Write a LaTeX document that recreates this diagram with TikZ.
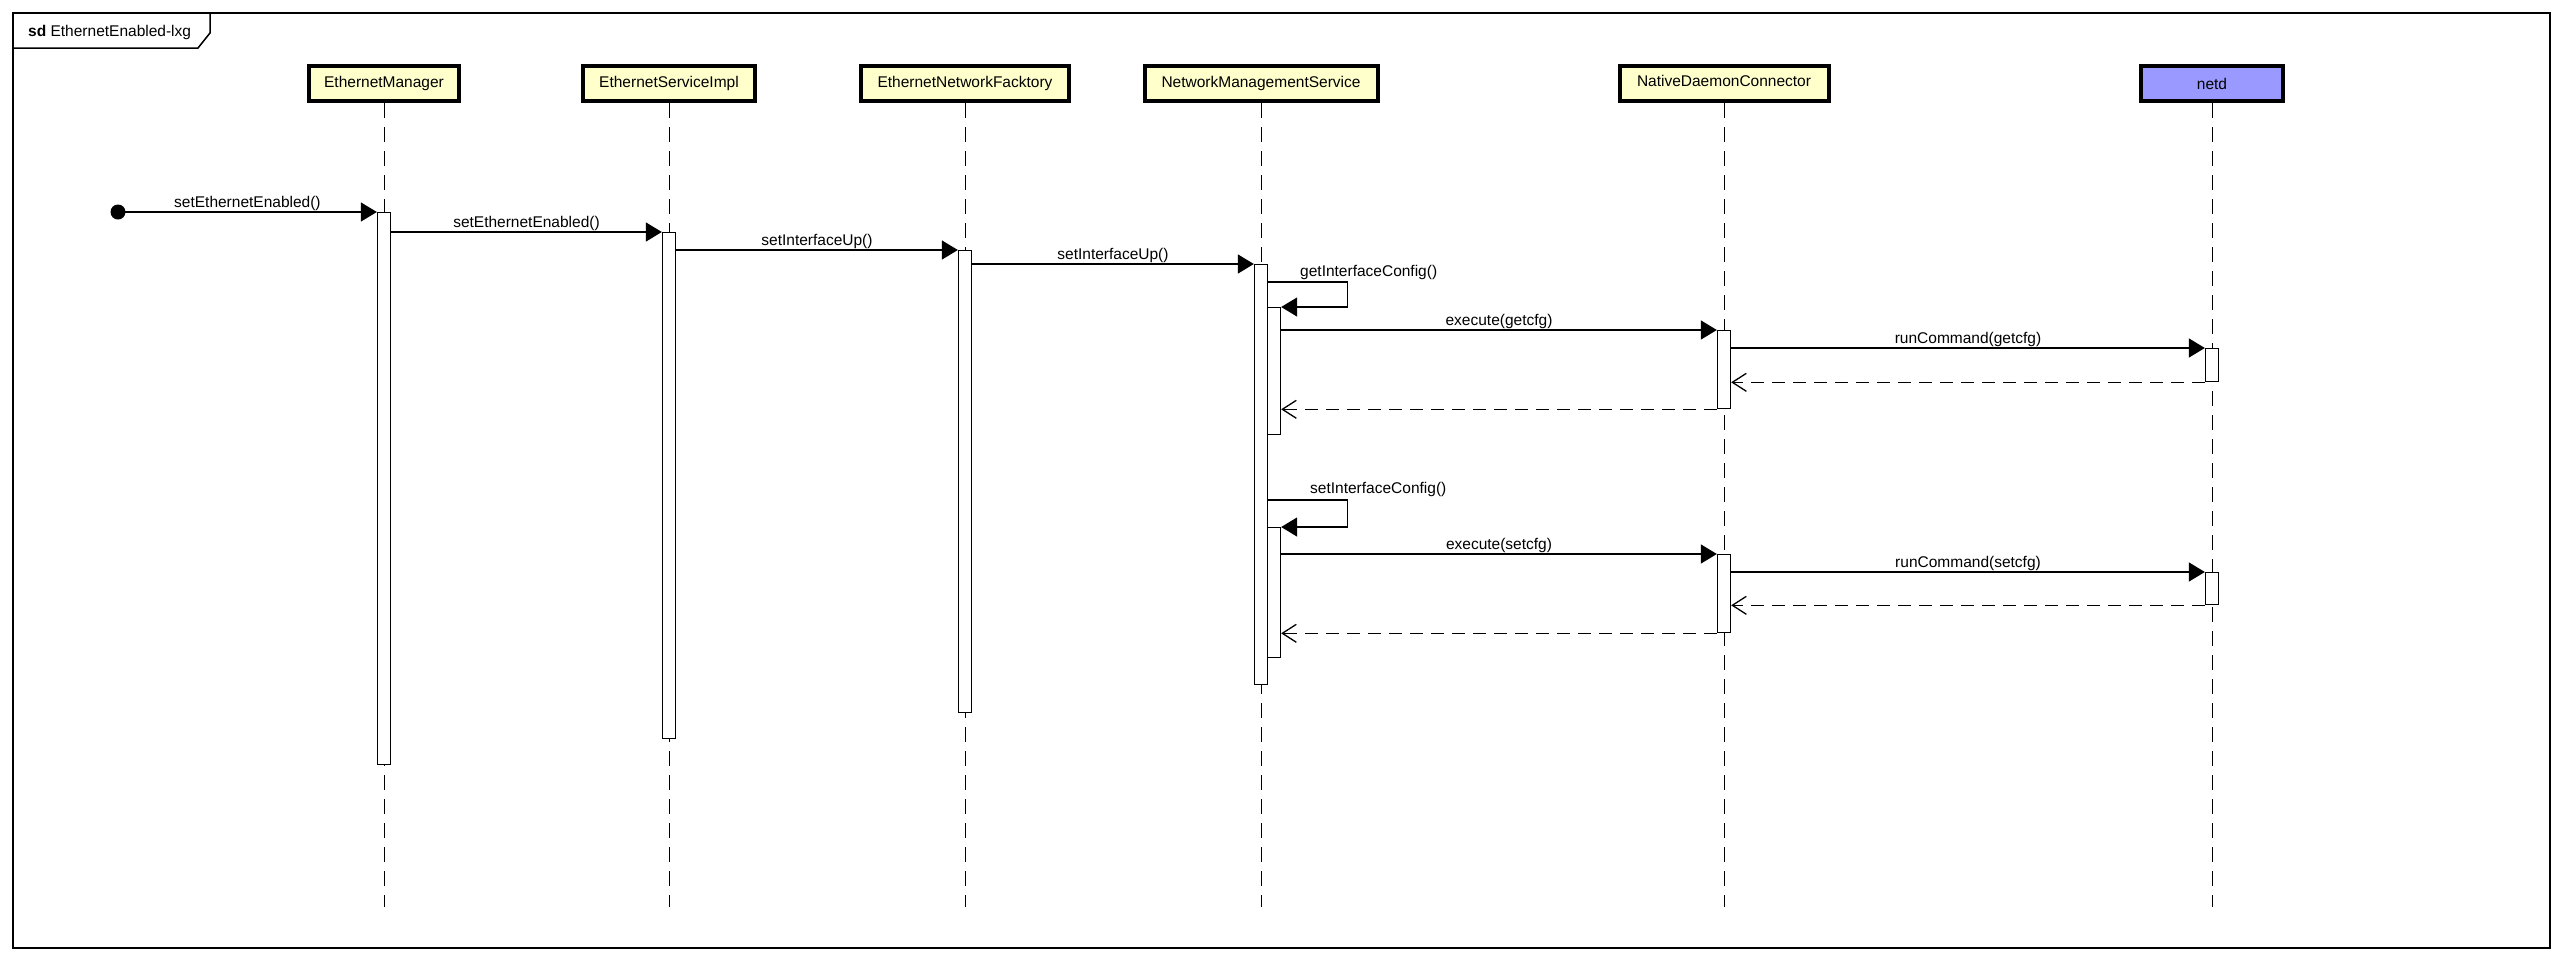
\documentclass[tikz,border=0pt]{standalone}
\usepackage{fontspec}
\setmainfont{Liberation Sans}
\usetikzlibrary{arrows.meta}
\definecolor{boxyellow}{RGB}{255,255,204}
\definecolor{netdblue}{RGB}{153,153,255}
\begin{document}
\begin{tikzpicture}[x=1pt,y=-1pt,
  font=\fontsize{15.5}{18}\selectfont,
  lifebox/.style={draw, line width=4pt, fill=boxyellow, minimum height=35pt, inner sep=0pt, anchor=north},
  lifeline/.style={line width=1pt, dash pattern=on 15pt off 9pt},
  act/.style={draw, fill=white, line width=1.3pt, minimum width=13pt, inner sep=0pt, anchor=north},
  msg/.style={line width=1.3pt, -{Triangle[length=16pt,width=19pt]}},
  ret/.style={line width=1.3pt, dash pattern=on 13pt off 8pt, -{Straight Barb[length=14pt,width=18pt]}},
  lbl/.style={midway, anchor=south, inner sep=1pt},
  slbl/.style={anchor=south west, inner sep=1pt}
]
\useasboundingbox (0,0) rectangle (2564,959);

% frame
\draw[line width=1.5pt] (13,13) rectangle (2550,948);
\draw[line width=1.5pt] (13,48) -- (198,48) -- (210,33) -- (210,13);
\node[anchor=west, inner sep=0pt] (title) at (28,32) {\textbf{sd} EthernetEnabled-lxg};

% lifeline heads
\node[lifebox, minimum width=150pt] (bEM)  at (384,64)  {EthernetManager};
\node[lifebox, minimum width=172pt] (bESI) at (669,64)  {EthernetServiceImpl};
\node[lifebox, minimum width=208pt] (bENF) at (965,64)  {EthernetNetworkFacktory};
\node[lifebox, minimum width=233pt] (bNMS) at (1261,64) {NetworkManagementService};
\node[lifebox, minimum width=209pt] (bNDC) at (1724,64) {\raisebox{3pt}[\height][\depth]{NativeDaemonConnector}};
\node[lifebox, minimum width=142pt, fill=netdblue] (bND) at (2212,64) {netd};

% lifeline ends
\coordinate (eEM)  at (384,907);
\coordinate (eESI) at (669,907);
\coordinate (eENF) at (965,907);
\coordinate (eNMS) at (1261,907);
\coordinate (eNDC) at (1724,907);
\coordinate (eND)  at (2212,907);
\draw[lifeline] (bEM.south)  -- (eEM);
\draw[lifeline] (bESI.south) -- (eESI);
\draw[lifeline] (bENF.south) -- (eENF);
\draw[lifeline] (bNMS.south) -- (eNMS);
\draw[lifeline] (bNDC.south) -- (eNDC);
\draw[lifeline] (bND.south)  -- (eND);

% activations
\node[act, minimum height=552pt] (aEM)  at (384,212)  {};
\node[act, minimum height=506pt] (aESI) at (669,232)  {};
\node[act, minimum height=462pt] (aENF) at (965,250)  {};
\node[act, minimum height=420pt] (aNMS) at (1261,264) {};
\node[act, minimum height=127pt] (n1)   at (1274,307) {};
\node[act, minimum height=78pt]  (c1)   at (1724,330) {};
\node[act, minimum height=33pt]  (d1)   at (2212,348) {};
\node[act, minimum height=130pt] (n2)   at (1274,527) {};
\node[act, minimum height=78pt]  (c2)   at (1724,554) {};
\node[act, minimum height=32pt]  (d2)   at (2212,572) {};

% message levels
\coordinate (y2) at (0,232);
\coordinate (y3) at (0,250);
\coordinate (y4) at (0,264);
\coordinate (s1) at (0,282);
\coordinate (s2) at (0,500);

% found message
\node[circle, fill, inner sep=0pt, minimum size=15pt] (start) at (118,212) {};
\draw[msg] (start.center) -- node[lbl] {setEthernetEnabled()} (aEM.north west);

\draw[msg] (aEM.east |- y2) -- node[lbl] {setEthernetEnabled()} (aESI.north west);
\draw[msg] (aESI.east |- y3) -- node[lbl] {setInterfaceUp()} (aENF.north west);
\draw[msg] (aENF.east |- y4) -- node[lbl] {setInterfaceUp()} (aNMS.north west);

% getInterfaceConfig
\draw[msg] (aNMS.east |- s1) -- ++(79.5,0) |- (n1.north east);
\node[slbl] (lg) at (1299,281) {getInterfaceConfig()};
\draw[msg] (n1.north east |- c1.north) -- node[lbl] {execute(getcfg)} (c1.north west);
\draw[msg] (c1.north east |- d1.north) -- node[lbl] {runCommand(getcfg)} (d1.north west);
\draw[ret] (d1.south west) -- (c1.east |- d1.south);
\draw[ret] (c1.south west) -- (n1.east |- c1.south);

% setInterfaceConfig
\draw[msg] (aNMS.east |- s2) -- ++(79.5,0) |- (n2.north east);
\node[slbl] (ls) at (1309,498) {setInterfaceConfig()};
\draw[msg] (n2.north east |- c2.north) -- node[lbl] {execute(setcfg)} (c2.north west);
\draw[msg] (c2.north east |- d2.north) -- node[lbl] {runCommand(setcfg)} (d2.north west);
\draw[ret] (d2.south west) -- (c2.east |- d2.south);
\draw[ret] (c2.south west) -- (n2.east |- c2.south);
\end{tikzpicture}
\end{document}
